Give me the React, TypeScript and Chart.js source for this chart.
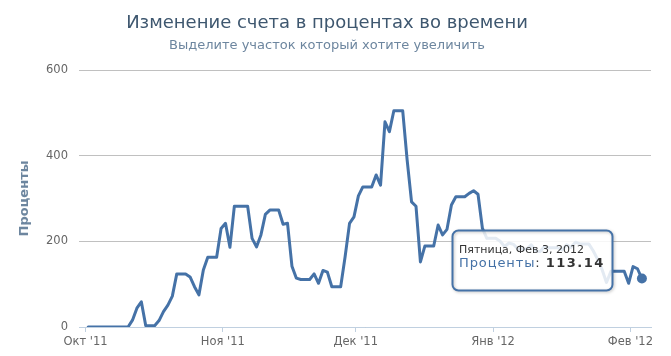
import React, { useEffect, useRef } from 'react';
import { Chart, registerables } from 'chart.js';

Chart.register(...registerables);

const TITLE = 'Изменение счета в процентах во времени';
const SUBTITLE = 'Выделите участок который хотите увеличить';
const Y_TITLE = 'Проценты';
const SERIES_NAME = 'Проценты';
const TOOLTIP_DATE = 'Пятница, Фев 3, 2012';

// Month tick positions, in days since 1 Oct 2011 00:00
const MONTH_TICKS = [0, 31, 61, 92, 123];
const MONTH_LABELS = ["Окт '11", "Ноя '11", "Дек '11", "Янв '12", "Фев '12"];

const Y_TICKS = [0, 200, 400, 600];

// Samples are taken once a day (afternoon), 1 Oct 2011 .. 3 Feb 2012
const SAMPLE_TIME_OF_DAY = 0.6;
const DAILY_VALUES = [
  0, 0, 0, 0, 0, 0, 0, 0, 0, 0,
  16, 44, 59, 3, 3, 3,
  15, 36, 51, 72, 124, 124, 124,
  117, 94, 75, 133, 163, 163, 163,
  230, 242, 186, 282, 282, 282, 282,
  207, 187, 215, 263, 273, 273, 273,
  240, 242, 142, 114, 111, 111, 111,
  124, 102, 132, 128, 94, 94, 94,
  164, 242, 257, 306, 327, 327, 327,
  355, 331, 479, 456, 505, 505, 505,
  390, 292, 282, 152, 189, 189, 189,
  238, 215, 228, 285, 304, 304, 304,
  312, 318, 310, 230, 207, 207, 207,
  200, 188, 196, 193, 182, 182, 182,
  192, 178, 176, 188, 185, 185, 185,
  180, 192, 186, 198, 194, 194, 194,
  178, 158, 134, 104, 130, 130, 130,
  130, 102, 141, 136, 113.14,
];

const X_MIN = -1.47;
const X_MAX = 127.65;

const SERIES_COLOR = '#4572A7';
const FONT = '"DejaVu Sans", sans-serif';

const HOVER_INDEX = DAILY_VALUES.length - 1;

function roundRectPath(ctx: CanvasRenderingContext2D, x: number, y: number, w: number, h: number, r: number) {
  ctx.beginPath();
  ctx.moveTo(x + r, y);
  ctx.lineTo(x + w - r, y);
  ctx.arcTo(x + w, y, x + w, y + r, r);
  ctx.lineTo(x + w, y + h - r);
  ctx.arcTo(x + w, y + h, x + w - r, y + h, r);
  ctx.lineTo(x + r, y + h);
  ctx.arcTo(x, y + h, x, y + h - r, r);
  ctx.lineTo(x, y + r);
  ctx.arcTo(x, y, x + r, y, r);
  ctx.closePath();
}

const hcTooltip = {
  id: 'hcTooltip',
  afterDatasetsDraw(chart: any) {
    const meta = chart.getDatasetMeta(0);
    const pt = meta.data[HOVER_INDEX];
    if (!pt) return;
    const ctx: CanvasRenderingContext2D = chart.ctx;
    const valueText = DAILY_VALUES[HOVER_INDEX].toFixed(2);
    ctx.save();
    ctx.font = '11px ' + FONT;
    (ctx as any).letterSpacing = '0px';
    const w1 = ctx.measureText(TOOLTIP_DATE).width;
    ctx.font = '13px ' + FONT;
    (ctx as any).letterSpacing = '0.9px';
    const wName = ctx.measureText(SERIES_NAME).width;
    const wColon = ctx.measureText(': ').width;
    ctx.font = 'bold 13px ' + FONT;
    (ctx as any).letterSpacing = '1.5px';
    const wVal = ctx.measureText(valueText).width;
    const w = Math.round(Math.max(w1, wName + wColon + wVal) + 14);
    const h = 60;
    const bx = Math.round(pt.x - 30 - w) + 0.5;
    const by = Math.round(pt.y - 49) + 0.5;

    // box
    roundRectPath(ctx, bx, by, w, h, 6);
    ctx.fillStyle = 'rgba(255,255,255,0.85)';
    ctx.fill();
    ctx.shadowColor = 'rgba(0,0,0,0.25)';
    ctx.shadowBlur = 3;
    ctx.shadowOffsetX = 1;
    ctx.shadowOffsetY = 1;
    ctx.lineWidth = 2;
    ctx.strokeStyle = SERIES_COLOR;
    ctx.stroke();
    ctx.shadowColor = 'transparent';

    // text
    const tx = bx + 6.5;
    ctx.textBaseline = 'alphabetic';
    ctx.textAlign = 'left';
    ctx.font = '11px ' + FONT;
    (ctx as any).letterSpacing = '0px';
    ctx.fillStyle = '#333333';
    ctx.fillText(TOOLTIP_DATE, tx, by + 22);
    ctx.font = '13px ' + FONT;
    (ctx as any).letterSpacing = '0.9px';
    ctx.fillStyle = SERIES_COLOR;
    ctx.fillText(SERIES_NAME, tx, by + 36);
    ctx.fillStyle = '#333333';
    ctx.fillText(': ', tx + wName, by + 36);
    ctx.font = 'bold 13px ' + FONT;
    (ctx as any).letterSpacing = '1.5px';
    ctx.fillText(valueText, tx + wName + wColon, by + 36);
    ctx.restore();
  },
};

export default function App() {
  const canvasRef = useRef<HTMLCanvasElement | null>(null);

  useEffect(() => {
    const canvas = canvasRef.current;
    if (!canvas) return;
    Chart.defaults.font.family = FONT;
    const points = DAILY_VALUES.map((v, i) => ({ x: i + SAMPLE_TIME_OF_DAY, y: v }));
    const chart = new Chart(canvas, {
      type: 'line',
      data: {
        datasets: [
          {
            label: SERIES_NAME,
            data: points,
            borderColor: SERIES_COLOR,
            backgroundColor: SERIES_COLOR,
            borderWidth: 3,
            borderJoinStyle: 'round',
            borderCapStyle: 'round',
            tension: 0,
            fill: false,
            pointRadius: (c: any) => (c.dataIndex === HOVER_INDEX ? 5 : 0),
            pointHoverRadius: (c: any) => (c.dataIndex === HOVER_INDEX ? 5 : 0),
            pointBackgroundColor: SERIES_COLOR,
            pointBorderWidth: 0,
          },
        ],
      },
      options: {
        animation: false,
        responsive: false,
        devicePixelRatio: 1,
        events: [],
        layout: { padding: { left: 3, right: 20, top: 0, bottom: 0 } },
        plugins: {
          legend: { display: false },
          tooltip: { enabled: false },
          title: {
            display: true,
            text: TITLE,
            color: '#3E576F',
            font: { size: 18, weight: 'normal', family: FONT },
            padding: { top: 13, bottom: 2 },
          },
          subtitle: {
            display: true,
            text: SUBTITLE,
            color: '#6D869F',
            font: { size: 13, weight: 'normal', family: FONT },
            padding: { top: 1, bottom: 16.8 },
          },
        },
        scales: {
          x: {
            type: 'linear',
            min: X_MIN,
            max: X_MAX,
            afterBuildTicks: (scale: any) => {
              scale.ticks = MONTH_TICKS.map((v) => ({ value: v }));
            },
            afterFit: (scale: any) => {
              scale.height = 29;
            },
            ticks: {
              autoSkip: false,
              maxRotation: 0,
              color: '#666666',
              font: { size: 11.5, family: FONT },
              padding: 3,
              callback: (value: any) => {
                const i = MONTH_TICKS.indexOf(Number(value));
                return i >= 0 ? MONTH_LABELS[i] : '';
              },
            },
            grid: {
              drawOnChartArea: false,
              drawTicks: true,
              tickLength: 5,
              tickColor: '#C0D0E0',
              color: '#C0D0E0',
            },
            border: { display: true, color: '#C0D0E0', width: 1 },
          },
          y: {
            type: 'linear',
            min: 0,
            max: 600,
            afterBuildTicks: (scale: any) => {
              scale.ticks = Y_TICKS.map((v) => ({ value: v }));
            },
            afterFit: (scale: any) => {
              scale.width = 76;
            },
            ticks: {
              color: '#666666',
              font: { size: 11.5, family: FONT },
              padding: 11,
            },
            grid: {
              color: '#C0C0C0',
              lineWidth: 1,
              drawTicks: false,
            },
            border: { display: false },
            title: {
              display: true,
              text: Y_TITLE,
              color: '#6D869F',
              font: { size: 13, weight: 'bold', family: FONT },
              padding: { top: 14.2, bottom: 0 },
            },
          },
        },
      },
      plugins: [hcTooltip],
    } as any);
    return () => chart.destroy();
  }, []);

  return (
    <div style={{ position: 'fixed', left: 0, top: 0, width: 671, height: 356, background: '#ffffff' }}>
      <canvas ref={canvasRef} width={671} height={356} style={{ display: 'block' }} />
    </div>
  );
}
